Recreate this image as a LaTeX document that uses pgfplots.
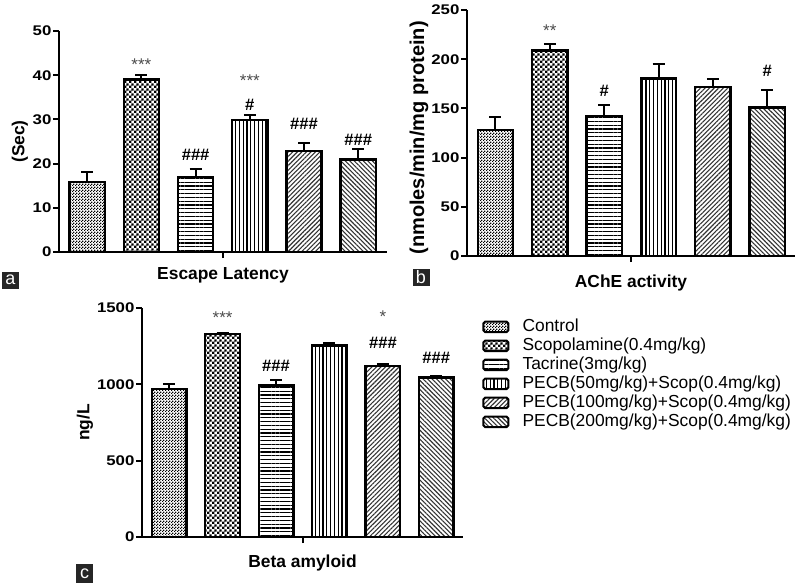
\documentclass[border=0pt]{standalone}
\usepackage{fontspec}
\setmainfont{Liberation Sans}
\newfontfamily\tickfont[FakeStretch=1.2]{Liberation Sans}
\usepackage{pgfplots}
\pgfplotsset{compat=1.18}
\usetikzlibrary{patterns,patterns.meta}

\pgfdeclarepattern{
  name=checkfine, type=uncolored,
  bottom left={\pgfpointorigin}, top right={\pgfpoint{1.5pt}{1.5pt}},
  tile size={\pgfpoint{1.5pt}{1.5pt}},
  code={\pgfpathrectangle{\pgfpointorigin}{\pgfpoint{0.75pt}{0.75pt}}
        \pgfpathrectangle{\pgfpoint{0.75pt}{0.75pt}}{\pgfpoint{0.75pt}{0.75pt}}
        \pgfusepath{fill}}}
\pgfdeclarepattern{
  name=checkcoarse, type=uncolored,
  bottom left={\pgfpointorigin}, top right={\pgfpoint{2.6pt}{2.6pt}},
  tile size={\pgfpoint{2.6pt}{2.6pt}},
  code={\pgfpathrectangle{\pgfpointorigin}{\pgfpoint{1.3pt}{1.3pt}}
        \pgfpathrectangle{\pgfpoint{1.3pt}{1.3pt}}{\pgfpoint{1.3pt}{1.3pt}}
        \pgfusepath{fill}}}

\tikzset{
  stars/.style={font=\fontsize{8.5}{9}\selectfont, text=black!70},
  hashes/.style={font=\bfseries\fontsize{8.3}{9}\selectfont},
  plab/.style={fill=black!85, text=white, font=\fontsize{9}{9}\selectfont, inner sep=0pt, minimum width=8.5pt, minimum height=8.5pt},
}
\pgfplotsset{
  panel/.style={
    scale only axis, axis x line=bottom, axis y line=left,
    axis line style={-, line width=1pt},
    tick align=outside, major tick length=3pt,
    tick style={line width=1pt, black},
    xtick={3.5}, xticklabels={},
    ymin=0, ybar, bar width=0.65, bar shift=0pt,
    scaled y ticks=false,
    /pgf/number format/1000 sep={},
    /pgf/number format/assume math mode=true,
    ticklabel style={font=\tickfont\bfseries\fontsize{7}{8}\selectfont},
    yticklabel style={inner sep=0.6pt},
    label style={font=\bfseries\fontsize{8.7}{10}\selectfont},
    error bars/y dir=plus, error bars/y explicit,
    error bars/error mark=|,
    error bars/error bar style={line width=1pt, black, solid},
    error bars/error mark options={line width=1pt, black, mark size=3pt},
    clip=false,
  },
  b1/.style={draw=black, line width=1.2pt, pattern=checkfine, pattern color=black},
  b2/.style={draw=black, line width=1.2pt, pattern=checkcoarse, pattern color=black},
  b3/.style={draw=black, line width=1.2pt, pattern={Lines[angle=0, distance=1.9pt, line width=0.55pt]}, pattern color=black},
  b4/.style={draw=black, line width=1.2pt, pattern={Lines[angle=90, distance=1.9pt, line width=0.55pt]}, pattern color=black},
  b5/.style={draw=black, line width=1.2pt, pattern={Lines[angle=45, distance=1.6pt, line width=0.55pt]}, pattern color=black!80},
  b6/.style={draw=black, line width=1.2pt, pattern={Lines[angle=-45, distance=1.6pt, line width=0.55pt]}, pattern color=black!80},
}

\begin{document}
\begin{tikzpicture}
\useasboundingbox (0,0) rectangle (399pt,292.5pt);

% ---------- panel a ----------
\begin{axis}[panel, at={(29.5pt,166.5pt)}, anchor=south west,
  width=164pt, height=110.5pt, xmin=0.48, xmax=6.53, ymax=50,
  ytick={0,10,20,30,40,50},
  xlabel={Escape Latency}, ylabel={(Sec)},
  xlabel style={at={(axis description cs:0.5,-0.104)}, anchor=center},
  ylabel style={at={(axis description cs:-0.119,0.5)}, anchor=center}]
\addplot[b1] coordinates {(1,15.8) +- (0,2.3)};
\addplot[b2] coordinates {(2,39.0) +- (0,1.0)};
\addplot[b3] coordinates {(3,17.0) +- (0,1.7)};
\addplot[b4] coordinates {(4,29.9) +- (0,1.0)};
\addplot[b5] coordinates {(5,22.9) +- (0,1.8)};
\addplot[b6] coordinates {(6,20.9) +- (0,2.3)};
\node[stars] at (axis cs:2,42.4) {***};
\node[hashes] at (axis cs:3,22.0) {\#\#\#};
\node[stars] at (axis cs:4,38.8) {***};
\node[hashes] at (axis cs:4,33.3) {\#};
\node[hashes] at (axis cs:5,28.9) {\#\#\#};
\node[hashes] at (axis cs:6,25.4) {\#\#\#};
\end{axis}

% ---------- panel b ----------
\begin{axis}[panel, at={(233.5pt,164.5pt)}, anchor=south west,
  width=164pt, height=123pt, xmin=0.476, xmax=6.51, ymax=250,
  ytick={0,50,100,150,200,250},
  xlabel={AChE activity}, ylabel={(nmoles/min/mg protein)},
  xlabel style={at={(axis description cs:0.5,-0.11)}, anchor=center},
  ylabel style={at={(axis description cs:-0.146,0.48)}, anchor=center, font=\bfseries\fontsize{10}{11}\selectfont}]
\addplot[b1] coordinates {(1,128) +- (0,13.6)};
\addplot[b2] coordinates {(2,209) +- (0,6)};
\addplot[b3] coordinates {(3,142) +- (0,11)};
\addplot[b4] coordinates {(4,180.5) +- (0,14.5)};
\addplot[b5] coordinates {(5,172) +- (0,8)};
\addplot[b6] coordinates {(6,151) +- (0,17.7)};
\node[stars] at (axis cs:2,229) {**};
\node[hashes] at (axis cs:3,168) {\#};
\node[hashes] at (axis cs:6,188) {\#};
\end{axis}

% ---------- panel c ----------
\begin{axis}[panel, at={(71pt,24pt)}, anchor=south west,
  width=160.5pt, height=114.5pt, xmin=0.49, xmax=6.50, ymax=1500,
  ytick={0,500,1000,1500},
  xlabel={Beta amyloid}, ylabel={ng/L},
  xlabel style={at={(axis description cs:0.5,-0.114)}, anchor=center},
  ylabel style={at={(axis description cs:-0.178,0.5)}, anchor=center},
  legend style={at={(axis description cs:1.059,0.961)}, anchor=north west,
    draw=none, fill=none, inner sep=0pt, row sep=0pt,
    font=\fontsize{8.7}{9}\selectfont,
    nodes={text height=6.4pt, text depth=1.9pt, inner sep=0.6pt},
    /tikz/every odd column/.append style={column sep=6pt}},
  legend cell align=left,
  legend image code/.code={\draw[#1, line width=1pt, rounded corners=0.9pt] (0pt,-2.6pt) rectangle (12.5pt,2.6pt);},
  ]
\addplot[b1] coordinates {(1,971) +- (0,33)};
\addplot[b2] coordinates {(2,1330) +- (0,8)};
\addplot[b3] coordinates {(3,993) +- (0,37)};
\addplot[b4] coordinates {(4,1255) +- (0,14)};
\addplot[b5] coordinates {(5,1122) +- (0,11)};
\addplot[b6] coordinates {(6,1046) +- (0,9)};
\legend{Control, Scopolamine(0.4mg/kg), Tacrine(3mg/kg), PECB(50mg/kg)+Scop(0.4mg/kg), PECB(100mg/kg)+Scop(0.4mg/kg), PECB(200mg/kg)+Scop(0.4mg/kg)}
\node[stars] at (axis cs:2,1434) {***};
\node[hashes] at (axis cs:3,1122) {\#\#\#};
\node[stars] at (axis cs:5,1445) {*};
\node[hashes] at (axis cs:5,1271) {\#\#\#};
\node[hashes] at (axis cs:6,1175) {\#\#\#};
\end{axis}

\node[plab] at (5.25pt,152.5pt) {a};
\node[plab] at (210.5pt,154pt) {b};
\node[plab, minimum height=9.5pt] at (42.25pt,5.75pt) {c};
\end{tikzpicture}
\end{document}
